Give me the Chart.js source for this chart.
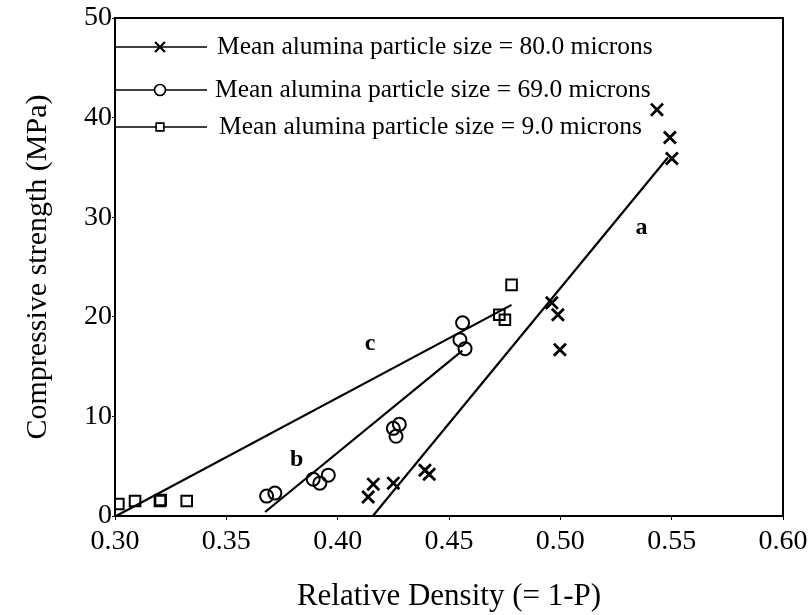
<!DOCTYPE html>
<html>
<head>
<meta charset="utf-8">
<script src="https://cdn.jsdelivr.net/npm/chart.js@4/dist/chart.umd.min.js"></script>
<style>
  html, body { margin: 0; padding: 0; background: #fff; }
  #wrap { width: 810px; height: 615px; }
</style>
</head>
<body>
<div id="wrap"><canvas id="chart"></canvas></div>
<script>
// series names (legend)
const seriesLabels = [
  'Mean alumina particle size = 80.0 microns',
  'Mean alumina particle size = 69.0 microns',
  'Mean alumina particle size = 9.0 microns'
];

const density80 = [0.4137, 0.4160, 0.4250, 0.4392, 0.4411, 0.4962, 0.4989, 0.4998, 0.5434, 0.5492, 0.5501];
const strength80 = [1.9, 3.2, 3.3, 4.6, 4.2, 21.4, 20.2, 16.7, 40.8, 38.0, 35.9];

const density69 = [0.3681, 0.3718, 0.3890, 0.3920, 0.3958, 0.4250, 0.4262, 0.4277, 0.4549, 0.4561, 0.4572];
const strength69 = [2.0, 2.3, 3.7, 3.3, 4.1, 8.8, 8.0, 9.2, 17.7, 19.4, 16.8];

const density9 = [0.3015, 0.3090, 0.3202, 0.3205, 0.3322, 0.4726, 0.4751, 0.4781];
const strength9 = [1.2, 1.5, 1.5, 1.6, 1.5, 20.2, 19.7, 23.2];

// fitted lines a, b, c (end points)
const fitLabels = ['a', 'b', 'c'];
const fitA_x = [0.4158, 0.5483], fitA_y = [0, 36.0];
const fitB_x = [0.3674, 0.4560], fitB_y = [0.4, 16.6];
const fitC_x = [0.3005, 0.4781], fitC_y = [0, 21.2];
// where the a/b/c letters sit
const fitLabelX = [0.5365, 0.3816, 0.4145];
const fitLabelY = [28.9, 5.6, 17.3];

// axes
const xTicks = [0.30, 0.35, 0.40, 0.45, 0.50, 0.55, 0.60];
const yTicks = [0, 10, 20, 30, 40, 50];

const zip = (xs, ys) => xs.map((x, i) => ({ x: x, y: ys[i] }));
const serif = '"Liberation Serif", "DejaVu Serif", serif';

const markerStyles = ['crossRot', 'circle', 'rect'];
const markerRadius = [8.5, 6.5, 7.5];
const legendRadius = [7, 5.5, 5.5];
const legendRows = [29, 72, 109];
const legendTextX = [102, 100, 104];

const frameAndNotes = {
  id: 'frameAndNotes',
  afterDatasetsDraw(chart) {
    const { ctx, chartArea: area, scales } = chart;
    ctx.save();
    ctx.strokeStyle = '#000';
    ctx.lineWidth = 2;
    ctx.strokeRect(area.left, area.top, area.right - area.left, area.bottom - area.top);

    // legend, drawn from the axis like the original
    ctx.font = '25.5px ' + serif;
    ctx.textBaseline = 'middle';
    ctx.fillStyle = '#000';
    seriesLabels.forEach((label, i) => {
      const y = area.top + legendRows[i];
      ctx.lineWidth = 1.6;
      ctx.beginPath();
      ctx.moveTo(area.left, y);
      ctx.lineTo(area.left + 92, y);
      ctx.stroke();
      ctx.fillStyle = '#fff';
      ctx.lineWidth = i === 0 ? 2.2 : 1.6;
      Chart.helpers.drawPoint(ctx, {
        pointStyle: markerStyles[i], radius: legendRadius[i], rotation: 0, borderWidth: ctx.lineWidth
      }, area.left + 45, y);
      ctx.fillStyle = '#000';
      ctx.fillText(label, area.left + legendTextX[i], y);
    });

    // curve letters
    ctx.font = 'bold 24px ' + serif;
    ctx.textAlign = 'center';
    fitLabels.forEach((t, i) => {
      ctx.fillText(t, scales.x.getPixelForValue(fitLabelX[i]), scales.y.getPixelForValue(fitLabelY[i]));
    });
    ctx.restore();
  }
};

const pointSet = (label, xs, ys, i) => ({
  label: label,
  data: zip(xs, ys),
  showLine: false,
  pointStyle: markerStyles[i],
  pointRadius: markerRadius[i],
  pointBorderWidth: i === 0 ? 2.8 : 2,
  pointBorderColor: '#000',
  pointBackgroundColor: 'rgba(0,0,0,0)'
});
const lineSet = (label, xs, ys) => ({
  label: label,
  data: zip(xs, ys),
  showLine: true,
  borderColor: '#000',
  borderWidth: 2.2,
  pointRadius: 0
});

new Chart(document.getElementById('chart'), {
  type: 'scatter',
  data: {
    datasets: [
      pointSet(seriesLabels[0], density80, strength80, 0),
      pointSet(seriesLabels[1], density69, strength69, 1),
      pointSet(seriesLabels[2], density9, strength9, 2),
      lineSet('a', fitA_x, fitA_y),
      lineSet('b', fitB_x, fitB_y),
      lineSet('c', fitC_x, fitC_y)
    ]
  },
  options: {
    responsive: true,
    maintainAspectRatio: false,
    animation: false,
    layout: { padding: { top: 18, right: 27, left: 0, bottom: 0 } },
    plugins: { legend: { display: false }, tooltip: { enabled: false } },
    scales: {
      x: {
        type: 'linear',
        min: 0.3,
        max: 0.6,
        afterBuildTicks: (axis) => { axis.ticks = xTicks.map(v => ({ value: v })); },
        afterFit: (axis) => { axis.height = 99; axis.paddingLeft = 0; axis.paddingRight = 0; },
        grid: { display: true, drawOnChartArea: false, tickLength: 4, color: '#000' },
        border: { display: true, color: '#000', width: 2 },
        ticks: {
          color: '#000', padding: 5, maxRotation: 0,
          font: { family: serif, size: 28 },
          callback: (v) => Number(v).toFixed(2)
        },
        title: {
          display: true, text: 'Relative Density (= 1-P)', color: '#000',
          font: { family: serif, size: 31 }, padding: { top: 0, bottom: 0 }
        }
      },
      y: {
        type: 'linear',
        min: 0,
        max: 50,
        afterBuildTicks: (axis) => { axis.ticks = yTicks.map(v => ({ value: v })); },
        afterFit: (axis) => { axis.width = 115; },
        grid: { display: true, drawOnChartArea: false, tickLength: 3, color: '#000' },
        border: { display: true, color: '#000', width: 2 },
        ticks: { color: '#000', padding: 0, font: { family: serif, size: 28 } },
        title: {
          display: true, text: 'Compressive strength (MPa)', color: '#000',
          font: { family: serif, size: 30 }, padding: { top: 20, bottom: 0 }
        }
      }
    }
  },
  plugins: [frameAndNotes]
});
</script>
</body>
</html>
